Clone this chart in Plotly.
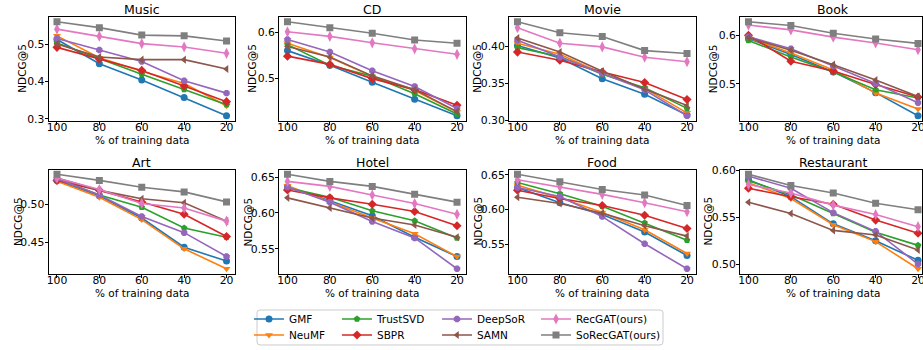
import plotly.graph_objects as go

# ---------------- data ----------------
train_pct = [100, 80, 60, 40, 20]
x_ticks = [100, 80, 60, 40, 20]
methods = ["GMF", "NeuMF", "TrustSVD", "SBPR", "DeepSoR", "SAMN", "RecGAT(ours)", "SoRecGAT(ours)"]
datasets = ["Music", "CD", "Movie", "Book", "Art", "Hotel", "Food", "Restaurant"]

music = {
    "GMF": [0.513, 0.448, 0.404, 0.357, 0.308],
    "NeuMF": [0.523, 0.464, 0.428, 0.395, 0.335],
    "TrustSVD": [0.504, 0.461, 0.420, 0.379, 0.338],
    "SBPR": [0.492, 0.461, 0.430, 0.388, 0.346],
    "DeepSoR": [0.516, 0.485, 0.454, 0.402, 0.369],
    "SAMN": [0.501, 0.466, 0.459, 0.459, 0.434],
    "RecGAT(ours)": [0.541, 0.522, 0.502, 0.493, 0.476],
    "SoRecGAT(ours)": [0.561, 0.545, 0.525, 0.523, 0.509],
}
cd = {
    "GMF": [0.560, 0.528, 0.491, 0.454, 0.418],
    "NeuMF": [0.576, 0.545, 0.504, 0.473, 0.426],
    "TrustSVD": [0.573, 0.528, 0.504, 0.466, 0.422],
    "SBPR": [0.548, 0.530, 0.499, 0.475, 0.441],
    "DeepSoR": [0.584, 0.557, 0.516, 0.482, 0.434],
    "SAMN": [0.569, 0.546, 0.505, 0.475, 0.427],
    "RecGAT(ours)": [0.601, 0.591, 0.577, 0.564, 0.552],
    "SoRecGAT(ours)": [0.623, 0.610, 0.598, 0.583, 0.576],
}
movie = {
    "GMF": [0.401, 0.384, 0.356, 0.335, 0.307],
    "NeuMF": [0.404, 0.389, 0.363, 0.343, 0.310],
    "TrustSVD": [0.398, 0.386, 0.362, 0.344, 0.316],
    "SBPR": [0.392, 0.381, 0.365, 0.351, 0.328],
    "DeepSoR": [0.408, 0.385, 0.363, 0.341, 0.306],
    "SAMN": [0.411, 0.392, 0.366, 0.342, 0.320],
    "RecGAT(ours)": [0.425, 0.404, 0.399, 0.385, 0.379],
    "SoRecGAT(ours)": [0.433, 0.418, 0.413, 0.394, 0.390],
}
book = {
    "GMF": [0.594, 0.561, 0.525, 0.482, 0.434],
    "NeuMF": [0.596, 0.564, 0.529, 0.481, 0.448],
    "TrustSVD": [0.590, 0.556, 0.525, 0.488, 0.471],
    "SBPR": [0.601, 0.547, 0.527, 0.499, 0.473],
    "DeepSoR": [0.598, 0.573, 0.537, 0.501, 0.461],
    "SAMN": [0.596, 0.570, 0.540, 0.508, 0.474],
    "RecGAT(ours)": [0.622, 0.612, 0.597, 0.585, 0.571],
    "SoRecGAT(ours)": [0.629, 0.621, 0.605, 0.593, 0.584],
}
art = {
    "GMF": [0.531, 0.511, 0.482, 0.444, 0.426],
    "NeuMF": [0.530, 0.509, 0.480, 0.442, 0.416],
    "TrustSVD": [0.533, 0.512, 0.496, 0.469, 0.457],
    "SBPR": [0.531, 0.518, 0.503, 0.487, 0.458],
    "DeepSoR": [0.533, 0.512, 0.484, 0.463, 0.432],
    "SAMN": [0.534, 0.518, 0.507, 0.502, 0.478],
    "RecGAT(ours)": [0.534, 0.519, 0.501, 0.495, 0.478],
    "SoRecGAT(ours)": [0.539, 0.531, 0.522, 0.516, 0.503],
}
hotel = {
    "GMF": [0.636, 0.617, 0.596, 0.566, 0.539],
    "NeuMF": [0.638, 0.615, 0.593, 0.571, 0.539],
    "TrustSVD": [0.635, 0.622, 0.603, 0.589, 0.565],
    "SBPR": [0.632, 0.621, 0.612, 0.602, 0.582],
    "DeepSoR": [0.636, 0.615, 0.588, 0.565, 0.522],
    "SAMN": [0.621, 0.607, 0.593, 0.583, 0.566],
    "RecGAT(ours)": [0.644, 0.637, 0.625, 0.613, 0.598],
    "SoRecGAT(ours)": [0.654, 0.644, 0.637, 0.626, 0.615],
}
food = {
    "GMF": [0.632, 0.610, 0.593, 0.568, 0.534],
    "NeuMF": [0.635, 0.617, 0.596, 0.571, 0.537],
    "TrustSVD": [0.639, 0.623, 0.605, 0.581, 0.556],
    "SBPR": [0.628, 0.616, 0.606, 0.592, 0.573],
    "DeepSoR": [0.632, 0.619, 0.590, 0.551, 0.515],
    "SAMN": [0.618, 0.609, 0.595, 0.577, 0.562],
    "RecGAT(ours)": [0.643, 0.633, 0.622, 0.610, 0.597],
    "SoRecGAT(ours)": [0.651, 0.640, 0.629, 0.621, 0.606],
}
restaurant = {
    "GMF": [0.590, 0.572, 0.543, 0.525, 0.504],
    "NeuMF": [0.587, 0.570, 0.542, 0.524, 0.495],
    "TrustSVD": [0.589, 0.574, 0.554, 0.534, 0.520],
    "SBPR": [0.581, 0.572, 0.564, 0.547, 0.533],
    "DeepSoR": [0.594, 0.581, 0.555, 0.535, 0.500],
    "SAMN": [0.566, 0.554, 0.536, 0.531, 0.515],
    "RecGAT(ours)": [0.585, 0.576, 0.563, 0.553, 0.540],
    "SoRecGAT(ours)": [0.596, 0.584, 0.576, 0.565, 0.558],
}
all_data = [music, cd, movie, book, art, hotel, food, restaurant]

# ---------------- styling ----------------
W, H = 923, 350
FONT = "DejaVu Sans"
colors = ["#1f77b4", "#ff7f0e", "#2ca02c", "#d62728", "#9467bd", "#8c564b", "#e377c2", "#7f7f7f"]
symbols = ["circle", "triangle-down", "pentagon", "diamond", "octagon", "triangle-left", "diamond-tall", "square"]
msizes = [7, 7, 7, 7, 7, 7, 8, 7]
col_px = [(48.5, 235), (279, 465.5), (509, 695.5), (740, 922)]
row_px = [(17, 120.5), (169.5, 273.5)]
title_y_px = [9.5, 162]
xlabel_y_px = [140, 292.5]
ylabel_off_px = [26.5, 27, 32, 27.5, 31, 32, 32, 33]
dticks = [0.1, 0.1, 0.05, 0.1, 0.05, 0.05, 0.05, 0.05]
tfmts = [".1f", ".1f", ".2f", ".1f", ".2f", ".2f", ".2f", ".2f"]
px_per_unit = 186.5 / 88.0
TICK_FS, LABEL_FS, TITLE_FS = 10.8, 10.5, 12.5

fig = go.Figure()
layout = dict(
    width=W, height=H, margin=dict(l=0, r=0, t=0, b=0, autoexpand=False),
    paper_bgcolor="white", plot_bgcolor="white",
    font=dict(family=FONT, size=LABEL_FS, color="black"),
    showlegend=True,
)
annotations = []

legend_slots = {}
leg_x_px = [249, 337, 437, 536]
leg_y_px = [319, 335]
for mi, m in enumerate(methods):
    col, row = mi // 2, mi % 2
    name = "legend" if mi == 0 else f"legend{mi + 1}"
    legend_slots[m] = name
    layout[name] = dict(
        x=leg_x_px[col] / W, y=1 - leg_y_px[row] / H, xanchor="left", yanchor="middle",
        bgcolor="rgba(0,0,0,0)", borderwidth=0, font=dict(family=FONT, size=LABEL_FS, color="black"),
        itemwidth=30,
    )

def ann(text, xp, yp, size, angle=0):
    return dict(text=text, x=xp / W, y=1 - yp / H, xref="paper", yref="paper",
                xanchor="center", yanchor="middle", showarrow=False, textangle=angle,
                font=dict(family=FONT, size=size, color="black"))

for k, (dname, d) in enumerate(zip(datasets, all_data)):
    r, c = k // 4, k % 4
    ax = "" if k == 0 else str(k + 1)
    x0, x1 = col_px[c]
    y0, y1 = row_px[r]
    vals = [v for m in methods for v in d[m]]
    lo, hi = min(vals), max(vals)
    pad = 0.05 * (hi - lo)
    xr_end = 16 if c < 3 else 104 - (x1 - x0) / px_per_unit
    xc = x0 + 44 * px_per_unit  # centre of data span (x=60)
    layout["xaxis" + ax] = dict(
        domain=[x0 / W, x1 / W], anchor="y" + ax, range=[104, xr_end], automargin=False,
        tickmode="array", tickvals=x_ticks, ticktext=[str(t) for t in x_ticks],
        ticks="outside", ticklen=3, tickwidth=1, tickcolor="black",
        ticklabelstandoff=-6, ticklabeloverflow="allow",
        showline=True, linecolor="black", linewidth=1, mirror=True, showgrid=False, zeroline=False,
        tickfont=dict(family=FONT, size=TICK_FS, color="black"),
    )
    layout["yaxis" + ax] = dict(
        domain=[1 - y1 / H, 1 - y0 / H], anchor="x" + ax, range=[lo - pad, hi + pad], automargin=False,
        dtick=dticks[k], tick0=0, tickformat=tfmts[k],
        ticks="outside", ticklen=3, tickwidth=1, tickcolor="black",
        ticklabelstandoff=-2,
        showline=True, linecolor="black", linewidth=1, mirror=True, showgrid=False, zeroline=False,
        tickfont=dict(family=FONT, size=TICK_FS, color="black"),
    )
    annotations.append(ann(dname, xc, title_y_px[r], TITLE_FS))
    annotations.append(ann("% of training data", xc, xlabel_y_px[r], LABEL_FS))
    annotations.append(ann("NDCG@5", x0 - ylabel_off_px[k], (y0 + y1) / 2, LABEL_FS, -90))
    for mi, m in enumerate(methods):
        fig.add_trace(go.Scatter(
            x=train_pct, y=d[m], mode="lines+markers", name=m,
            line=dict(color=colors[mi], width=1.6),
            marker=dict(symbol=symbols[mi], size=msizes[mi], color=colors[mi]),
            xaxis="x" + ax, yaxis="y" + ax,
            legendgroup=m, showlegend=(k == 0), legend=legend_slots[m],
        ))

# legend frame (rounded rectangle)
lx0, lx1, ly0, ly1, rad = 257, 663, 310, 345, 3
def P(xp, yp):
    return f"{xp / W:.5f},{1 - yp / H:.5f}"
path = (f"M {P(lx0 + rad, ly0)} L {P(lx1 - rad, ly0)} Q {P(lx1, ly0)} {P(lx1, ly0 + rad)} "
        f"L {P(lx1, ly1 - rad)} Q {P(lx1, ly1)} {P(lx1 - rad, ly1)} L {P(lx0 + rad, ly1)} "
        f"Q {P(lx0, ly1)} {P(lx0, ly1 - rad)} L {P(lx0, ly0 + rad)} Q {P(lx0, ly0)} {P(lx0 + rad, ly0)} Z")
layout["shapes"] = [dict(type="path", path=path, xref="paper", yref="paper",
                         line=dict(color="#cccccc", width=1), fillcolor="rgba(255,255,255,0.8)", layer="below")]
layout["annotations"] = annotations
fig.update_layout(**layout)
fig.write_html("out.html", config={"displayModeBar": False},
               post_script="document.body.style.margin='0';document.body.style.overflow='hidden';")
